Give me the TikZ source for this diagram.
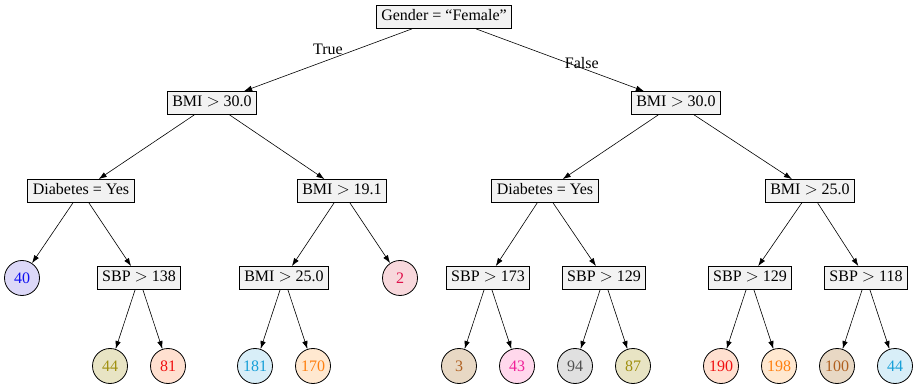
\documentclass[tikz,border=0pt]{standalone}
\usepackage{amsmath}
\usepackage{fontspec}
\setmainfont{Liberation Serif}
\usepackage{tikz}
\usetikzlibrary{arrows.meta}

\definecolor{lfBlue}{HTML}{DCD8F8}   \definecolor{ltBlue}{HTML}{1010F0}
\definecolor{lfOlive}{HTML}{E8E4C4}  \definecolor{ltOlive}{HTML}{A09010}
\definecolor{lfRed}{HTML}{FFE0D0}    \definecolor{ltRed}{HTML}{F01010}
\definecolor{lfCyan}{HTML}{D8EEF8}   \definecolor{ltCyan}{HTML}{18A0D8}
\definecolor{lfOrange}{HTML}{FFE8D0} \definecolor{ltOrange}{HTML}{FF8010}
\definecolor{lfCrimson}{HTML}{F8D8DC} \definecolor{ltCrimson}{HTML}{E0104A}
\definecolor{lfBrown}{HTML}{E8D8C4}  \definecolor{ltBrown}{HTML}{B06020}
\definecolor{lfPink}{HTML}{FFD8EC}   \definecolor{ltPink}{HTML}{F0209A}
\definecolor{lfGray}{HTML}{E0E0E0}   \definecolor{ltGray}{HTML}{505050}

\tikzset{
  test/.style={draw=black,fill=black!5,line width=0.8pt,inner xsep=5pt,inner ysep=4pt,
    text height=11.5pt,text depth=3.5pt,font=\fontsize{16}{18}\selectfont},
  leaf/.style={shape=circle,draw=black,line width=0.8pt,minimum size=35pt,inner sep=0pt,
    fill=lf#1,text=lt#1,font=\fontsize{16}{18}\selectfont},
  branch/.style={font=\fontsize{16}{18}\selectfont},
  edge/.style={->,line width=0.6pt},
}

\begin{document}
\begin{tikzpicture}[x=1pt,y=-1pt,>={Latex[length=8pt,width=5.5pt]}]
    \useasboundingbox (0,0) rectangle (913,387);

    % tests
    \node[test] (root) at (444,17) {Gender = ``Female''};
    \node[test] (bmiL) at (212,103) {BMI $>$ 30.0};
    \node[test] (bmiR) at (676,103) {BMI $>$ 30.0};
    \node[test] (diaL) at (81,191) {Diabetes = Yes};
    \node[test] (bmiA) at (342,191) {BMI $>$ 19.1};
    \node[test] (diaR) at (545,191) {Diabetes = Yes};
    \node[test] (bmiB) at (810,191) {BMI $>$ 25.0};
    \node[test] (sbpA) at (139,278) {SBP $>$ 138};
    \node[test] (bmiC) at (284,278) {BMI $>$ 25.0};
    \node[test] (sbpB) at (488,278) {SBP $>$ 173};
    \node[test] (sbpC) at (604,278) {SBP $>$ 129};
    \node[test] (sbpD) at (750,278) {SBP $>$ 129};
    \node[test] (sbpE) at (866,278) {SBP $>$ 118};

    % leaves
    \node[leaf=Blue] (n40) at (22,278) {40};
    \node[leaf=Crimson] (n2) at (400,278) {2};
    \node[leaf=Olive] (n44a) at (110,366) {44};
    \node[leaf=Red] (n81) at (168,366) {81};
    \node[leaf=Cyan] (n181) at (255,366) {181};
    \node[leaf=Orange] (n170) at (313,366) {170};
    \node[leaf=Brown] (n3) at (459,366) {3};
    \node[leaf=Pink] (n43) at (517,366) {43};
    \node[leaf=Gray] (n94) at (575,366) {94};
    \node[leaf=Olive] (n87) at (633,366) {87};
    \node[leaf=Red] (n190) at (721,366) {190};
    \node[leaf=Orange] (n198) at (779,366) {198};
    \node[leaf=Brown] (n100) at (837,366) {100};
    \node[leaf=Cyan] (n44b) at (895,366) {44};

    \draw[edge] (root) -- node[branch,pos=0.5,yshift=11pt] {True} (bmiL);
    \draw[edge] (root) -- node[branch,pos=0.63,yshift=5pt] {False} (bmiR);

    \draw[edge] (bmiL) -- (diaL);
    \draw[edge] (bmiL) -- (bmiA);
    \draw[edge] (bmiR) -- (diaR);
    \draw[edge] (bmiR) -- (bmiB);

    \draw[edge] (diaL) -- (n40);
    \draw[edge] (diaL) -- (sbpA);
    \draw[edge] (bmiA) -- (bmiC);
    \draw[edge] (bmiA) -- (n2);
    \draw[edge] (diaR) -- (sbpB);
    \draw[edge] (diaR) -- (sbpC);
    \draw[edge] (bmiB) -- (sbpD);
    \draw[edge] (bmiB) -- (sbpE);

    \draw[edge] (sbpA) -- (n44a);
    \draw[edge] (sbpA) -- (n81);
    \draw[edge] (bmiC) -- (n181);
    \draw[edge] (bmiC) -- (n170);
    \draw[edge] (sbpB) -- (n3);
    \draw[edge] (sbpB) -- (n43);
    \draw[edge] (sbpC) -- (n94);
    \draw[edge] (sbpC) -- (n87);
    \draw[edge] (sbpD) -- (n190);
    \draw[edge] (sbpD) -- (n198);
    \draw[edge] (sbpE) -- (n100);
    \draw[edge] (sbpE) -- (n44b);
  \end{tikzpicture}
\end{document}
